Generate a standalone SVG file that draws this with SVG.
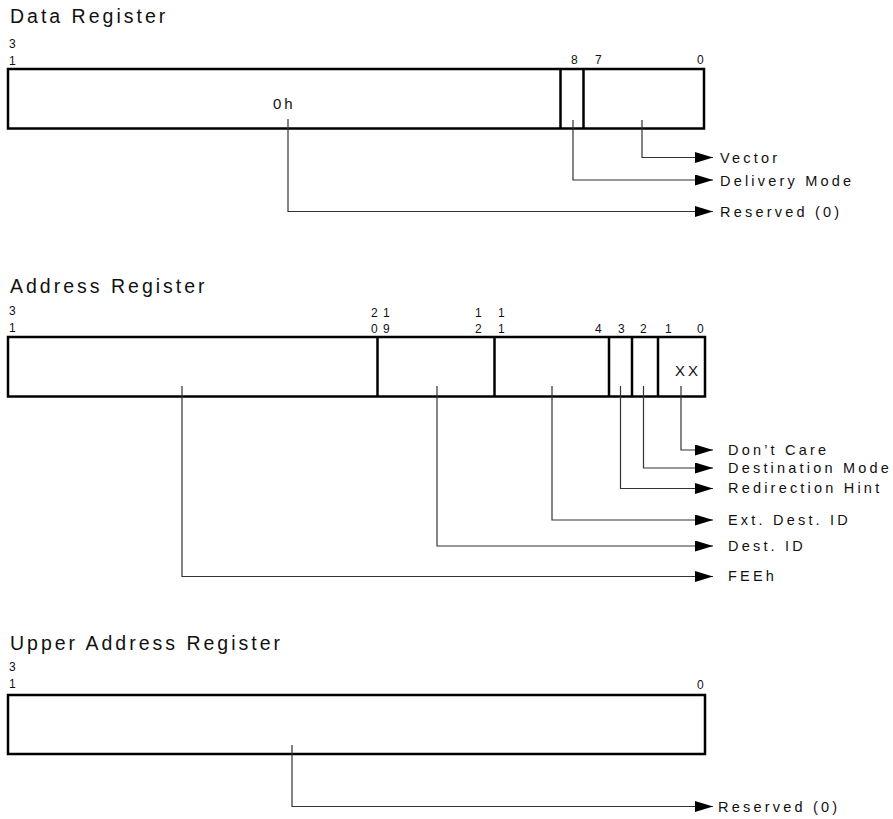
<svg xmlns="http://www.w3.org/2000/svg" width="893" height="819" viewBox="0 0 893 819">
<defs>
<marker id="arr" markerUnits="userSpaceOnUse" markerWidth="20" markerHeight="12" refX="18" refY="5.5" orient="auto"><path d="M0,0 L18,5.5 L0,11 Z" fill="#000"/></marker>
<style>
.title{font-family:"Liberation Sans",Arial,sans-serif;font-size:19.5px;letter-spacing:3px;fill:#111}
.bit{font-family:"Liberation Sans",Arial,sans-serif;font-size:12px;fill:#111}
.lbl{font-family:"Liberation Sans",Arial,sans-serif;font-size:14.5px;letter-spacing:3.2px;fill:#111}
.val{font-family:"Liberation Sans",Arial,sans-serif;font-size:15px;letter-spacing:3px;fill:#111}
.box{fill:#fff;stroke:#000;stroke-width:2.5}
.div{stroke:#000;stroke-width:2.5}
.con{fill:none;stroke:#333;stroke-width:1.2;marker-end:url(#arr)}
</style>
</defs>
<rect width="893" height="819" fill="#fff"/>

<g id="data-register">
<text class="title" x="10" y="23">Data Register</text>
<text class="bit" x="9" y="48">3</text>
<text class="bit" x="9" y="65">1</text>
<text class="bit" x="571" y="64">8</text>
<text class="bit" x="595" y="64">7</text>
<text class="bit" x="697" y="64">0</text>
<rect class="box" x="8" y="69" width="696" height="59.5"/>
<line class="div" x1="560.5" y1="69" x2="560.5" y2="128.5"/>
<line class="div" x1="583.5" y1="69" x2="583.5" y2="128.5"/>
<text class="val" x="273" y="109">0h</text>
<text class="lbl" x="720" y="163">Vector</text>
<text class="lbl" x="720" y="186">Delivery Mode</text>
<text class="lbl" x="720" y="217">Reserved (0)</text>
</g>

<g id="address-register">
<text class="title" x="10" y="293">Address Register</text>
<text class="bit" x="9" y="315">3</text>
<text class="bit" x="9" y="332">1</text>
<text class="bit" x="371" y="317">2</text>
<text class="bit" x="371" y="333">0</text>
<text class="bit" x="383" y="317">1</text>
<text class="bit" x="383" y="333">9</text>
<text class="bit" x="475" y="317">1</text>
<text class="bit" x="475" y="333">2</text>
<text class="bit" x="498" y="317">1</text>
<text class="bit" x="498" y="333">1</text>
<text class="bit" x="595" y="333">4</text>
<text class="bit" x="618" y="333">3</text>
<text class="bit" x="640" y="333">2</text>
<text class="bit" x="665" y="333">1</text>
<text class="bit" x="697" y="333">0</text>
<rect class="box" x="8" y="337" width="697" height="59.5"/>
<line class="div" x1="377.5" y1="337" x2="377.5" y2="396.5"/>
<line class="div" x1="494.5" y1="337" x2="494.5" y2="396.5"/>
<line class="div" x1="609" y1="337" x2="609" y2="396.5"/>
<line class="div" x1="632" y1="337" x2="632" y2="396.5"/>
<line class="div" x1="658" y1="337" x2="658" y2="396.5"/>
<text class="val" x="675" y="376">XX</text>
<text class="lbl" x="728" y="455">Don’t Care</text>
<text class="lbl" x="728" y="473">Destination Mode</text>
<text class="lbl" x="728" y="493">Redirection Hint</text>
<text class="lbl" x="728" y="525">Ext. Dest. ID</text>
<text class="lbl" x="728" y="551">Dest. ID</text>
<text class="lbl" x="728" y="581">FEEh</text>
</g>

<g id="upper-address-register">
<text class="title" x="10" y="650">Upper Address Register</text>
<text class="bit" x="9" y="671">3</text>
<text class="bit" x="9" y="688">1</text>
<text class="bit" x="697" y="689">0</text>
<rect class="box" x="8" y="695" width="697" height="59"/>
<text class="lbl" x="718" y="812">Reserved (0)</text>
</g>

<g id="connectors">
<path class="con" d="M642,120 V157.5 H713"/>
<path class="con" d="M573,120 V180 H713"/>
<path class="con" d="M288,119 V211.5 H713"/>
<path class="con" d="M681,386 V450 H713"/>
<path class="con" d="M643.5,386 V468 H713"/>
<path class="con" d="M620.5,386 V488.5 H713"/>
<path class="con" d="M552,386 V520 H713"/>
<path class="con" d="M437,386 V546 H713"/>
<path class="con" d="M182,386 V576.5 H713"/>
<path class="con" d="M292,745 V806.5 H713"/>
</g>
</svg>
